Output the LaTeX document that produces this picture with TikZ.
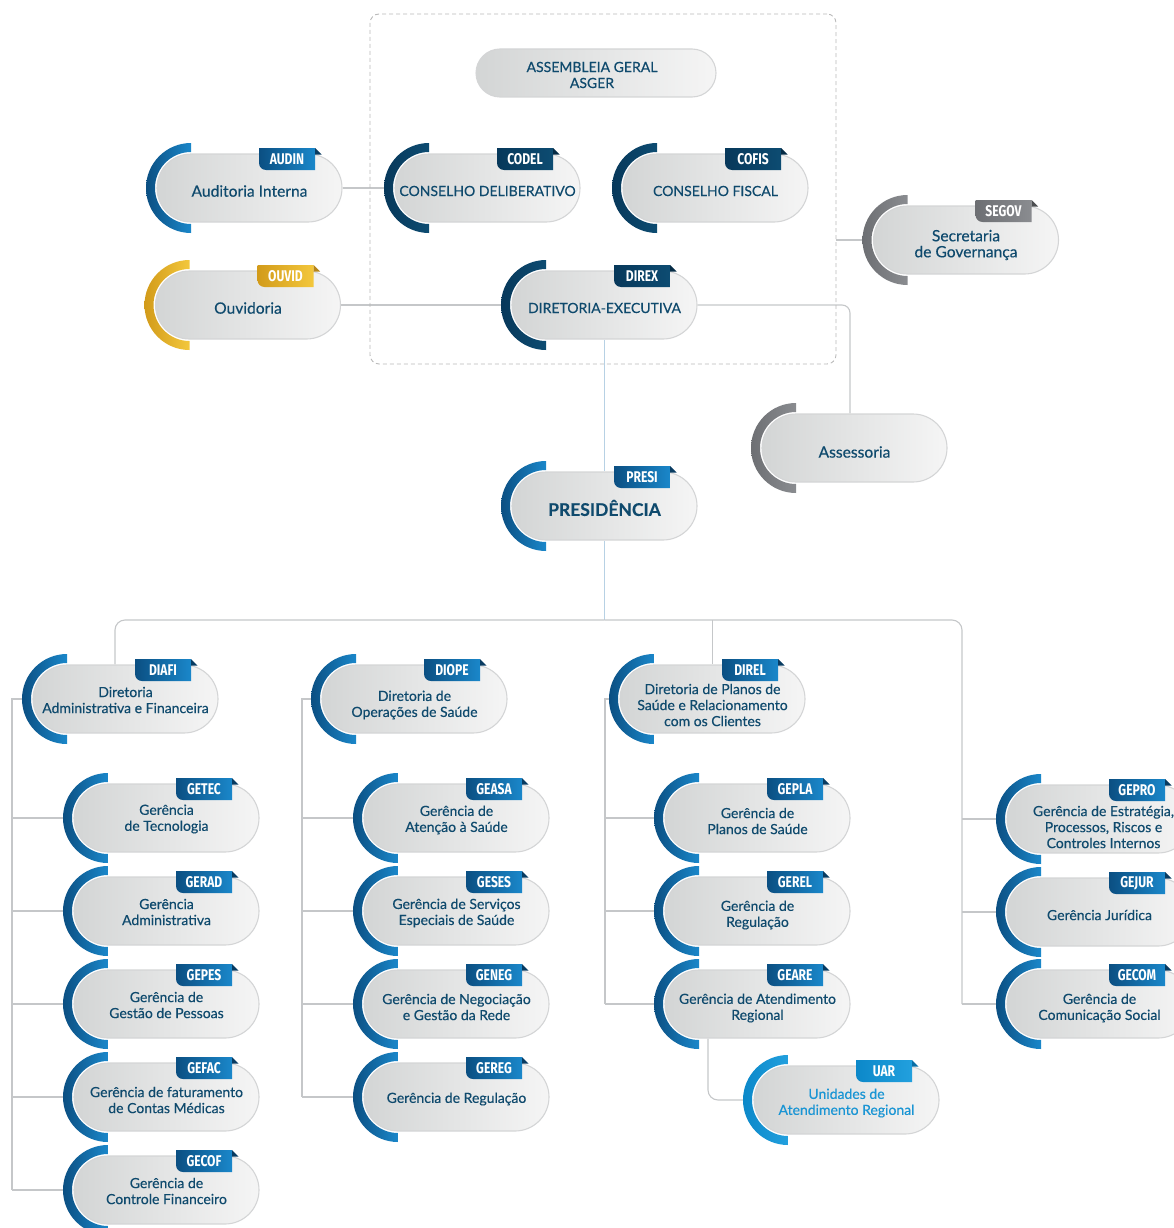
\documentclass[tikz,border=0pt]{standalone}
\usepackage{fontspec}
\usepackage{graphicx}
\setmainfont{Lato}
\newfontfamily\medfont{Lato}[FakeBold=0.35]
\newfontfamily\tagfont{Fira Sans}
\usetikzlibrary{backgrounds,calc}

\definecolor{pillL}{HTML}{D3D5D5}
\definecolor{pillR}{HTML}{F5F5F5}
\definecolor{pillB}{HTML}{D4D5D6}
\definecolor{txt}{HTML}{0F4A6D}
\definecolor{connC}{HTML}{C5C7C9}
\definecolor{connB}{HTML}{B7D1E4}
\definecolor{boxC}{HTML}{B9B9B9}
\definecolor{blueD}{HTML}{0B4F82}
\definecolor{blueL}{HTML}{1A87CA}
\definecolor{blueF}{HTML}{083B61}
\definecolor{navyD}{HTML}{07385A}
\definecolor{navyL}{HTML}{0D4C72}
\definecolor{navyF}{HTML}{052B45}
\definecolor{goldD}{HTML}{D29B1A}
\definecolor{goldL}{HTML}{F3C73C}
\definecolor{goldF}{HTML}{B5841A}
\definecolor{grayD}{HTML}{6D6F73}
\definecolor{grayL}{HTML}{8A8C90}
\definecolor{grayF}{HTML}{4C4E51}
\definecolor{ltbD}{HTML}{0C88C9}
\definecolor{ltbL}{HTML}{22A0DE}
\definecolor{ltbF}{HTML}{0A6EA5}
\definecolor{uartxt}{HTML}{1A95D4}

\tikzset{
  pill/.style={rectangle, rounded corners=34, minimum width=185, minimum height=68,
    inner sep=0, left color=pillL, right color=pillR, draw=pillB, line width=1.1},
  ptext/.style={text=txt, align=center, inner sep=0, font=\medfont\fontsize{14}{16}\selectfont},
  bigtext/.style={font=\medfont\fontsize{15.6}{16}\selectfont},
  tagtxt/.style={text=white, font=\tagfont\bfseries\fontsize{15.5}{15.5}\selectfont, inner sep=0},
  conn/.style={draw=connC, line width=1.1},
  vconn/.style={draw=connB, line width=1.1},
  dashbox/.style={draw=boxC, dash pattern=on 4pt off 3pt, rounded corners=9, line width=0.9,
    minimum width=466, minimum height=350, inner sep=0},
}

% [#1 text style] #2 name, #3 cx, #4 cy, #5 scheme, #6 text dy, #7 text
\newcommand\orgbox[7][]{%
  \shade[left color=#5D, right color=#5L] (#3-58.5,#4-45) arc[start angle=270,end angle=90,radius=45]
     -- (#3-58.5,#4+36) arc[start angle=90,end angle=270,radius=36] -- cycle;
  \node[pill] (#2) at (#3,#4) {};
  \node[ptext,#1] (#2-t) at (#3,#4+#6) {#7};
  \coordinate (#2-a) at (#3-103.5,#4);
}
% #1 name, #2 cx, #3 cy, #4 scheme, #5 tag text
\newcommand\orgtag[5]{%
  \shade[left color=#4D, right color=#4L] (#2+65.5,#3-40) -- (#2+9.5,#3-40) -- (#2+9.5,#3-25)
     arc[start angle=180,end angle=90,radius=7] -- (#2+65.5,#3-18) -- cycle;
  \fill[#4F] (#2+65.5,#3-40) -- (#2+72,#3-33.5) -- (#2+65.5,#3-33.5) -- cycle;
  \node[tagtxt] (#1-tag) at (#2+37.5,#3-28.5) {\scalebox{0.78}[1]{#5}};
}

\begin{document}
\begin{tikzpicture}[x=1pt,y=-1pt]
\useasboundingbox (0,0) rectangle (1174,1228);

\node[dashbox] (box) at (603,189) {};

\node[pill, minimum width=240, minimum height=48, rounded corners=24] (asger) at (596,73) {};
\node[ptext] (asger-t) at (592,75) {ASSEMBLEIA GERAL\\ASGER};

\orgbox[bigtext]{audin}{249.5}{188}{blue}{3}{Auditoria Interna}
\orgtag{audin}{249.5}{188}{blue}{AUDIN}
\orgbox{codel}{487.5}{188}{navy}{3}{CONSELHO DELIBERATIVO}
\orgtag{codel}{487.5}{188}{navy}{CODEL}
\orgbox{cofis}{715.5}{188}{navy}{3}{CONSELHO FISCAL}
\orgtag{cofis}{715.5}{188}{navy}{COFIS}
\orgbox[bigtext]{segov}{966}{240}{gray}{5}{Secretaria\\de Governança}
\orgtag{segov}{966}{240}{gray}{SEGOV}
\orgbox[bigtext]{ouvid}{248}{305}{gold}{3}{Ouvidoria}
\orgtag{ouvid}{248}{305}{gold}{OUVID}
\orgbox{direx}{604.5}{305}{navy}{3}{DIRETORIA-EXECUTIVA}
\orgtag{direx}{604.5}{305}{navy}{DIREX}
\orgbox[bigtext]{assess}{854.5}{448}{gray}{4}{Assessoria}
\orgbox{presi}{604.5}{506}{blue}{2}{{\bfseries\fontsize{17.5}{18}\selectfont PRESIDÊNCIA}}
\orgtag{presi}{604.5}{506}{blue}{PRESI}

\orgbox{diafi}{125.5}{699}{blue}{1}{Diretoria\\Administrativa e Financeira}
\orgtag{diafi}{125.5}{699}{blue}{DIAFI}
\orgbox{diope}{414.5}{699}{blue}{6}{Diretoria de\\Operações de Saúde}
\orgtag{diope}{414.5}{699}{blue}{DIOPE}
\orgbox{direl}{712.5}{699}{blue}{6}{Diretoria de Planos de\\Saúde e Relacionamento\\com os Clientes}
\orgtag{direl}{712.5}{699}{blue}{DIREL}

\orgbox{getec}{166.5}{818}{blue}{1}{Gerência\\de Tecnologia}
\orgtag{getec}{166.5}{818}{blue}{GETEC}
\orgbox{gerad}{166.5}{911}{blue}{1}{Gerência\\Administrativa}
\orgtag{gerad}{166.5}{911}{blue}{GERAD}
\orgbox{gepes}{166.5}{1004}{blue}{1}{Gerência de\\Gestão de Pessoas}
\orgtag{gepes}{166.5}{1004}{blue}{GEPES}
\orgbox{gefac}{166.5}{1097}{blue}{3}{Gerência de faturamento\\de Contas Médicas}
\orgtag{gefac}{166.5}{1097}{blue}{GEFAC}
\orgbox{gecof}{166.5}{1190}{blue}{1}{Gerência de\\Controle Financeiro}
\orgtag{gecof}{166.5}{1190}{blue}{GECOF}

\orgbox{geasa}{456.5}{818}{blue}{2}{Gerência de\\Atenção à Saúde}
\orgtag{geasa}{456.5}{818}{blue}{GEASA}
\orgbox{geses}{456.5}{911}{blue}{2}{Gerência de Serviços\\Especiais de Saúde}
\orgtag{geses}{456.5}{911}{blue}{GESES}
\orgbox{geneg}{456.5}{1004}{blue}{3}{Gerência de Negociação\\e Gestão da Rede}
\orgtag{geneg}{456.5}{1004}{blue}{GENEG}
\orgbox{gereg}{456.5}{1097}{blue}{2}{Gerência de Regulação}
\orgtag{gereg}{456.5}{1097}{blue}{GEREG}

\orgbox{gepla}{757.5}{818}{blue}{3}{Gerência de\\Planos de Saúde}
\orgtag{gepla}{757.5}{818}{blue}{GEPLA}
\orgbox{gerel}{757.5}{911}{blue}{4}{Gerência de\\Regulação}
\orgtag{gerel}{757.5}{911}{blue}{GEREL}
\orgbox{geare}{757.5}{1004}{blue}{4}{Gerência de Atendimento\\Regional}
\orgtag{geare}{757.5}{1004}{blue}{GEARE}
\orgbox[text=uartxt]{uar}{846.5}{1100}{ltb}{3}{Unidades de\\Atendimento Regional}
\orgtag{uar}{846.5}{1100}{ltb}{UAR}

\orgbox[xshift=4]{gepro}{1099.5}{819}{blue}{8}{Gerência de Estratégia,\\Processos, Riscos e\\Controles Internos}
\orgtag{gepro}{1099.5}{819}{blue}{GEPRO}
\orgbox{gejur}{1099.5}{912}{blue}{3}{Gerência Jurídica}
\orgtag{gejur}{1099.5}{912}{blue}{GEJUR}
\orgbox{gecom}{1099.5}{1004}{blue}{4}{Gerência de\\Comunicação Social}
\orgtag{gecom}{1099.5}{1004}{blue}{GECOM}

\coordinate (hub) at (604.5,620);
\coordinate (rbus) at (962,1004);
\coordinate (lbus) at (12,0);
\coordinate (mbus) at (302,0);
\coordinate (r2bus) at (605,0);

\begin{pgfonlayer}{background}
  \draw[conn] (audin.east) -- (codel-a);
  \draw[conn] (ouvid.east) -- (direx-a);
  \draw[conn, rounded corners=8] (direx.east) -| ([xshift=-4.5]assess.north);
  \draw[conn] (box.east |- segov-a) -- (segov-a);
  \draw[vconn] (direx.south) -- (presi.north);
  \draw[vconn] (presi.south) -- (hub);
  \draw[conn, rounded corners=10] ([xshift=-10.5]diafi.north) |- (hub);
  \draw[conn, rounded corners=10] (hub) -| (rbus);
  \draw[conn] (direl.north |- hub) -- (direl.north);
  \foreach \n in {gepro,gejur,gecom} \draw[conn] (\n-a -| rbus) -- (\n-a);
  \draw[conn] (diafi-a) -- (diafi-a -| lbus) -- (gecof-a -| lbus);
  \foreach \n in {getec,gerad,gepes,gefac,gecof} \draw[conn] (\n-a -| lbus) -- (\n-a);
  \draw[conn] (diope-a) -- (diope-a -| mbus) -- (gereg-a -| mbus);
  \foreach \n in {geasa,geses,geneg,gereg} \draw[conn] (\n-a -| mbus) -- (\n-a);
  \draw[conn] (direl-a) -- (direl-a -| r2bus) -- (geare-a -| r2bus);
  \foreach \n in {gepla,gerel,geare} \draw[conn] (\n-a -| r2bus) -- (\n-a);
  \draw[conn, rounded corners=10] ([xshift=-49.5]geare.south) |- (uar-a);
\end{pgfonlayer}
\end{tikzpicture}
\end{document}
